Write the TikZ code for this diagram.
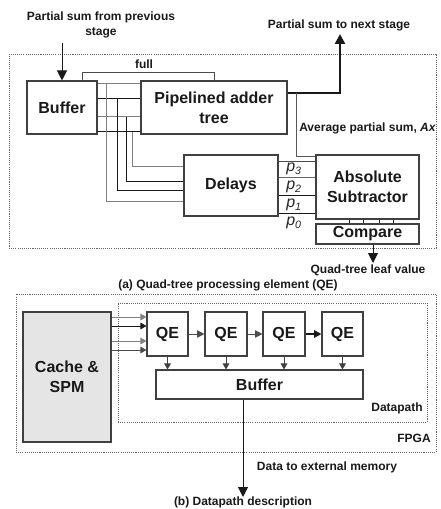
\documentclass[tikz,border=0pt]{standalone}
\usepackage{fontspec}
\setmainfont{Liberation Sans}
\usetikzlibrary{arrows.meta,fit}
\begin{document}
\begin{tikzpicture}[x=0.75pt,y=-0.75pt,
  box/.style={draw=black!75, line width=0.8pt, inner sep=0pt, align=center,
    font=\fontsize{12}{15}\selectfont\bfseries, text=black!90},
  lbl/.style={font=\fontsize{9}{11}\selectfont\bfseries, align=center, inner sep=0pt, text=black!90},
  plbl/.style={font=\fontsize{12}{14}\selectfont\itshape, inner sep=0pt, text=black!85},
  region/.style={draw=black!60, line width=0.6pt, dash pattern=on 0.8pt off 0.8pt, inner sep=0pt},
  wire/.style={line width=0.75pt, draw=black!90},
  gwire/.style={line width=0.75pt, draw=black!50},
  arr/.style={-{Triangle[length=7.5pt,width=7.5pt]}},
  sarr/.style={-{Triangle[length=4.5pt,width=5pt]}},
  marr/.style={-{Triangle[length=5.5pt,width=5.5pt]}},
]
\useasboundingbox (0,0) rectangle (441,509);

% ---------------- (a) quad-tree processing element ----------------
\node[region, fit={(9,54) (436,248)}] (qeregion) {};

\node[lbl] (src) at (101,25) {Partial sum from previous\\stage};
\node[box, minimum width=52.5pt, minimum height=39.75pt] (buf) at (62,107.5) {Buffer};
\node[box, minimum width=109.5pt, minimum height=39.75pt] (add) at (214,107.5) {Pipelined adder\\tree};
\node[box, minimum width=70.5pt, minimum height=45.75pt] (dly) at (231,185.5) {Delays};
\node[box, minimum width=77.25pt, minimum height=48pt] (abs) at (367.5,187) {Absolute\\Subtractor};
\node[box, minimum width=77.25pt, minimum height=15pt] (cmp) at (367.5,234) {Compare};

% input from the previous stage
\coordinate (in) at (62,43);
\draw[wire, arr] (in) -- (buf.north);

% "full" flag from buffer to adder
\coordinate (f1) at (82,81);
\coordinate (f2) at (214,81);
\draw[gwire, draw=black!70] (f1) -- ++(0,-8) -| (f2);
\node[lbl] (full) at (144,64) {full};

% four-lane bus buffer -> adder, each tapped down to the delays
\coordinate (y1) at (0,84);
\coordinate (y2) at (0,99);
\coordinate (y3) at (0,117);
\coordinate (y4) at (0,132);
\draw[gwire] (buf.east |- y1) -- (add.west |- y1);
\draw[wire]  (buf.east |- y2) -- (add.west |- y2);
\draw[gwire] (buf.east |- y3) -- (add.west |- y3);
\draw[wire]  (buf.east |- y4) -- (add.west |- y4);

\coordinate (t1) at (106,84);
\coordinate (t2) at (117,99);
\coordinate (t3) at (126,117);
\coordinate (t4) at (132,132);
\coordinate (d1) at (0,202);
\coordinate (d2) at (0,191);
\coordinate (d3) at (0,182);
\coordinate (d4) at (0,167);
\draw[gwire] (t1) |- (dly.west |- d1);
\draw[wire]  (t2) |- (dly.west |- d2);
\draw[wire]  (t3) |- (dly.west |- d3);
\draw[gwire] (t4) |- (dly.west |- d4);

% delayed partial sums p3..p0
\coordinate (q3) at (0,162);
\coordinate (q2) at (0,178);
\coordinate (q1) at (0,196);
\coordinate (q0) at (0,214);
\draw[gwire, draw=black!70] (dly.east |- q3) -- (abs.west |- q3);
\draw[gwire, draw=black!60] (dly.east |- q2) -- (abs.west |- q2);
\draw[wire] (dly.east |- q1) -- (abs.west |- q1);
\draw[wire] (dly.east |- q0) -- (abs.west |- q0);
\node[plbl] (p3) at (294,169) {p\textsubscript{3}};
\node[plbl] (p2) at (294,187) {p\textsubscript{2}};
\node[plbl] (p1) at (294,205) {p\textsubscript{1}};
\node[plbl] (p0) at (294,223) {p\textsubscript{0}};

% adder output to the next stage
\coordinate (o) at (0,93);
\coordinate (nxt) at (340,34);
\draw[line width=1.6pt, draw=black!90, arr] (add.east |- o) -| (nxt);
\node[lbl] (nxtlbl) at (339,25) {Partial sum to next stage};

% average partial sum into the subtractor
\coordinate (avg) at (296,93);
\coordinate (a1) at (0,157);
\draw[gwire, draw=black!65] (avg) |- (abs.west |- a1);
\node[lbl, anchor=west] (avglbl) at (299,128) {Average partial sum, \textit{Ax}};

% subtractor -> compare lanes
\foreach \x [count=\i] in {349,363,379,393} {
  \coordinate (k\i) at (\x,0);
  \draw[wire, line width=0.6pt] (abs.south -| k\i) -- (cmp.north -| k\i);
}

% compare result
\coordinate (leaf) at (373,263);
\draw[wire, arr] (cmp.south -| leaf) -- (leaf);
\node[lbl] (leaflbl) at (368,270) {Quad-tree leaf value};

\node[lbl] (capa) at (228,285) {(a) Quad-tree processing element (QE)};

% ---------------- (b) datapath ----------------
\node[region, fit={(16,294) (436,452)}] (fpga) {};
\node[region, fit={(118,303) (427,422)}] (dpath) {};
\node[lbl, anchor=south east] (fpgalbl) at (431,443) {FPGA};
\node[lbl, anchor=south east] (dplbl) at (423,414) {Datapath};

\node[box, fill=black!10, minimum width=66pt, minimum height=97.5pt] (cache) at (67,377) {Cache \&\\SPM};
\node[box, minimum width=30.75pt, minimum height=33pt] (qe1) at (167.5,334) {QE};
\node[box, minimum width=31.5pt, minimum height=33pt] (qe2) at (226,334) {QE};
\node[box, minimum width=31.5pt, minimum height=33pt] (qe3) at (284,334) {QE};
\node[box, minimum width=30.75pt, minimum height=33pt] (qe4) at (342.5,334) {QE};
\node[box, minimum width=155.25pt, minimum height=21.75pt] (obuf) at (259.5,384.5) {Buffer};

% cache -> first QE
\coordinate (c1) at (0,317);
\coordinate (c2) at (0,326);
\coordinate (c3) at (0,341);
\coordinate (c4) at (0,350);
\draw[gwire, sarr] (cache.east |- c1) -- (qe1.west |- c1);
\draw[wire, sarr]  (cache.east |- c2) -- (qe1.west |- c2);
\draw[gwire, sarr] (cache.east |- c3) -- (qe1.west |- c3);
\draw[gwire, draw=black!70, sarr] (cache.east |- c4) -- (qe1.west |- c4);

% QE chain
\coordinate (qc) at (0,334);
\draw[gwire, draw=black!70, marr] (qe1.east |- qc) -- (qe2.west |- qc);
\draw[gwire, draw=black!70, marr] (qe2.east |- qc) -- (qe3.west |- qc);
\draw[wire, line width=1.2pt, marr] (qe3.east |- qc) -- (qe4.west |- qc);

% QEs -> buffer
\foreach \q in {qe1,qe2,qe3,qe4}
  \draw[gwire, draw=black!75, sarr] (\q.south) -- (\q.south |- obuf.north);

% buffer -> external memory
\coordinate (ext) at (243,497);
\draw[wire, arr] (obuf.south -| ext) -- (ext);
\node[lbl] (extlbl) at (327,467) {Data to external memory};

\node[lbl] (capb) at (243,502) {(b) Datapath description};
\end{tikzpicture}
\end{document}
